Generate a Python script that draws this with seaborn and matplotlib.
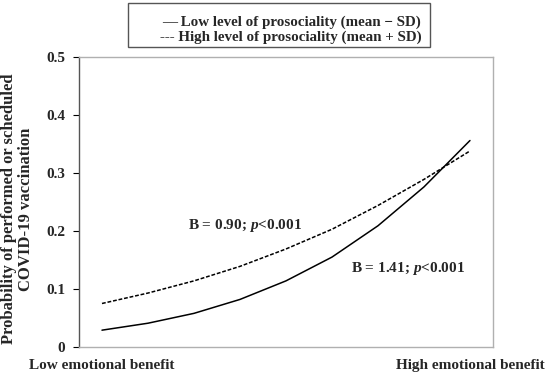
import matplotlib
matplotlib.use("Agg")
import matplotlib.pyplot as plt
from matplotlib.patches import Rectangle
import numpy as np
import pandas as pd
import seaborn as sns

# values (x = steps from low to high emotional benefit)
steps = [0, 1, 2, 3, 4, 5, 6, 7, 8]
low_prosocial = [0.029, 0.041, 0.058, 0.082, 0.114, 0.155, 0.209, 0.276, 0.356]
high_prosocial = [0.075, 0.093, 0.114, 0.139, 0.169, 0.203, 0.244, 0.289, 0.338]
y_ticks = [0, 0.1, 0.2, 0.3, 0.4, 0.5]
y_tick_labels = ["0", "0.1", "0.2", "0.3", "0.4", "0.5"]
x_tick_labels = ["Low emotional benefit", "High emotional benefit"]

df = pd.concat([
    pd.DataFrame({"step": steps, "prob": low_prosocial, "group": "low"}),
    pd.DataFrame({"step": steps, "prob": high_prosocial, "group": "high"}),
])

sns.set_style("white")
plt.rcParams["font.family"] = ["Liberation Serif", "DejaVu Serif"]
plt.rcParams["font.weight"] = "bold"
plt.rcParams["mathtext.fontset"] = "custom"
plt.rcParams["mathtext.it"] = "Liberation Serif:italic:bold"
plt.rcParams["mathtext.rm"] = "Liberation Serif:bold"

fig = plt.figure(figsize=(5.5, 3.77), dpi=100)
ax = fig.add_axes([0.1436, 0.0796, 0.7527, 0.7692])

sns.lineplot(data=df, x="step", y="prob", style="group",
             dashes={"low": "", "high": (2.5, 1.2)}, color="black",
             linewidth=1.1, legend=False, ax=ax)

ax.set_xlim(-0.5, 8.5)
ax.set_ylim(0, 0.5)
ax.set_yticks(y_ticks)
ax.set_yticklabels(y_tick_labels, fontsize=11, fontweight="bold")
ax.set_xticks([steps[0], steps[-1]])
ax.set_xticklabels(x_tick_labels, fontsize=11, fontweight="bold")
ax.tick_params(axis="x", length=0, pad=9)
ax.tick_params(axis="y", direction="out", length=4, width=0.8, color="black", pad=6, left=True)
ax.set_xlabel("")
ax.set_ylabel("Probability of performed or scheduled\nCOVID-19 vaccination",
              fontsize=12, fontweight="bold", linespacing=1.1)
ax.yaxis.set_label_coords(-0.109, 0.476)

for side in ["top", "right", "bottom"]:
    ax.spines[side].set_color("#b0b0b0")
    ax.spines[side].set_linewidth(1.0)
ax.spines["left"].set_color("#555555")
ax.spines["left"].set_linewidth(1.0)

ax.text(3.12, 0.21, r"B = 0.90; $p$<0.001", fontsize=11, fontweight="bold",
        ha="center", va="center")
ax.text(6.65, 0.136, r"B = 1.41; $p$<0.001", fontsize=11, fontweight="bold",
        ha="center", va="center")

# legend drawn as plain text in a box, like the original
fig.patches.append(Rectangle((128 / 550, 1 - 47 / 377), 302 / 550, 44 / 377,
                             transform=fig.transFigure, facecolor="white",
                             edgecolor="#555555", linewidth=1.0))
fig.text(291 / 550, 1 - 30 / 377,
         "\u2014 Low level of prosociality (mean \u2212 SD)\n--- High level of prosociality (mean + SD)",
         ha="center", va="center", fontsize=10.8, fontweight="bold", linespacing=1.1)

fig.savefig("out.png", dpi=100)
